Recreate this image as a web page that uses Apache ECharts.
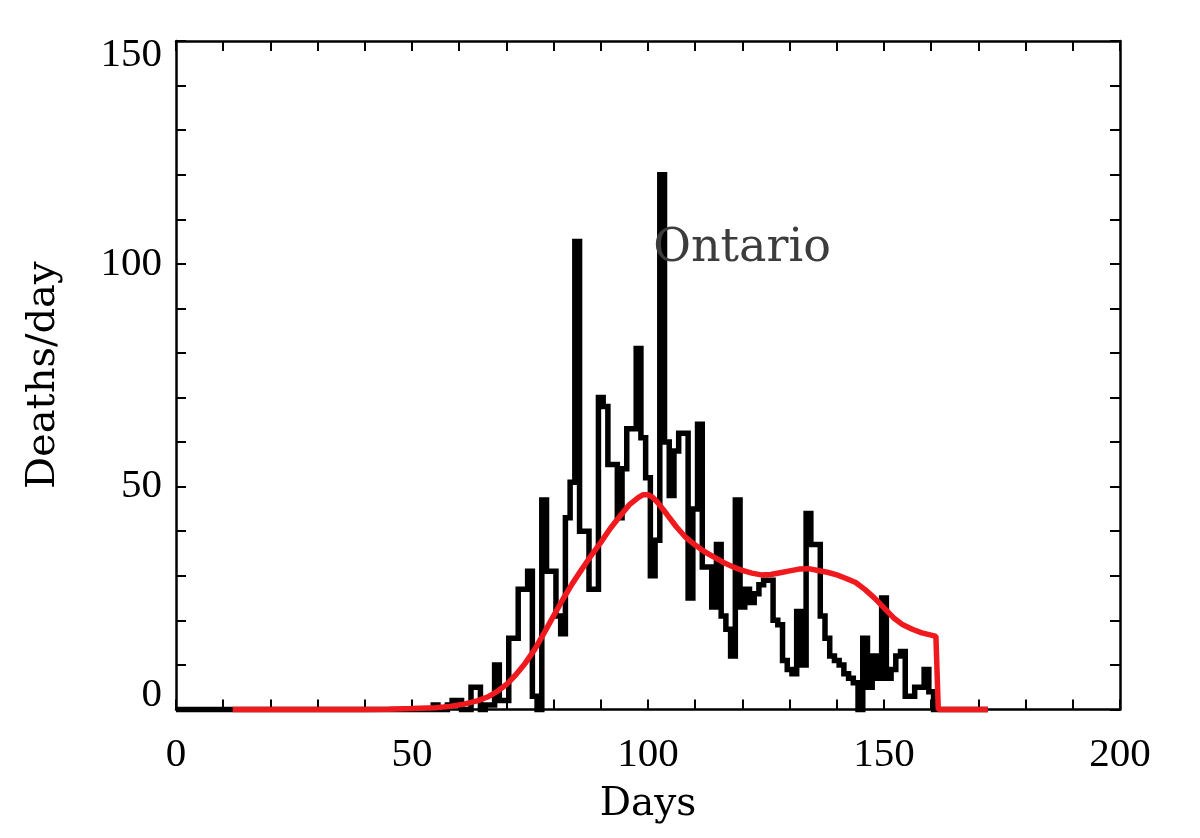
<!DOCTYPE html>
<html>
<head>
<meta charset="utf-8">
<script src="https://cdn.jsdelivr.net/npm/echarts@6/dist/echarts.min.js"></script>
<style>
html,body{margin:0;padding:0;background:#fff;}
#chart{width:1200px;height:838px;}
</style>
</head>
<body>
<div id="chart"></div>
<script>
// Daily deaths (step histogram), start day and values per day
const deathsStartDay = 55;
const deathsValues = [
  1,0,0,1,2,2,0,0,5,5,          // 55-64
  0,1,1,10,2,2,16,16,27,27,     // 65-74
  31,3,0,47,31,31,21,17,43,51,  // 75-84
  105,40,40,27,27,70,68,55,55,43, // 85-94
  54,63,63,81,61,52,30,38,120,60, // 95-104
  48,58,62,62,25,45,64,32,32,23,  // 105-114
  37,21,18,12,47,23,27,24,26,28,  // 115-124
  29,29,20,19,11,9,8,22,10,44,    // 125-134
  37,37,21,16,12,11,10,8,7,6,     // 135-144
  0,16,5,12,7,25,7,9,12,13,       // 145-154
  3,3,5,5,9,4,0                   // 155-161
];
const deathsLastDay = 172;

// Fitted model curve (red)
const fitDays = [12,20,30,40,45,50,55,58,61,64,66,68,70,72,74,76,78,80,82,84,86,88,90,92,94,96,98,99,100,101,102,104,106,108,110,112,114,116,118,120,122,124,126,128,130,132,134,136,138,140,142,144,146,148,150,152,154,156,158,160,161,161.5,172];
const fitValues = [0,0,0,0,0.05,0.2,0.4,0.7,1.2,2.0,2.8,4.0,5.6,7.8,10.4,13.5,17.2,21.0,24.8,28.3,31.5,34.6,37.5,40.6,43.3,45.9,47.6,48.2,48.2,47.6,46.5,43.8,41.0,38.6,36.9,35.4,34.2,33.0,32.0,31.2,30.6,30.2,30.3,30.7,31.1,31.5,31.6,31.2,30.8,30.2,29.4,28.5,26.9,25.0,22.8,20.6,19.0,18.0,17.2,16.7,16.4,0,0];

// Axis ticks
const xTickLabels = [0,50,100,150,200];
const yTickLabels = [0,50,100,150];
const titleText = 'Ontario';

const deathsData = [];
for (let d = 0; d <= deathsLastDay; d++) {
  const i = d - deathsStartDay;
  const v = (i >= 0 && i < deathsValues.length) ? deathsValues[i] : 0;
  deathsData.push([d, v]);
}
const fitData = fitDays.map((d, i) => [d, fitValues[i]]);

const chart = echarts.init(document.getElementById('chart'), null, {renderer: 'canvas'});
const tickFont = 'Liberation Serif';
const nameFont = 'DejaVu Serif';
const axisCommon = {
  type: 'value',
  splitLine: {show: false},
  axisLine: {show: true, onZero: false, lineStyle: {color: '#000', width: 2.5}},
  axisTick: {show: true, inside: true, length: 10, lineStyle: {color: '#000', width: 2}}
};
chart.setOption({
  animation: false,
  backgroundColor: '#fff',
  grid: {left: 176, right: 80, top: 41, bottom: 128.5},
  xAxis: [
    Object.assign({}, axisCommon, {
      position: 'bottom', min: 0, max: 200, interval: 10,
      name: 'Days', nameLocation: 'middle', nameGap: 76,
      nameTextStyle: {fontFamily: nameFont, fontSize: 39, color: '#000'},
      axisLabel: {
        margin: 25, fontFamily: tickFont, fontSize: 41, color: '#000',
        formatter: v => xTickLabels.indexOf(v) >= 0 ? String(v) : ''
      }
    }),
    Object.assign({}, axisCommon, {
      position: 'top', min: 0, max: 200, interval: 10,
      axisLabel: {show: false}
    })
  ],
  yAxis: [
    Object.assign({}, axisCommon, {
      position: 'left', min: 0, max: 150, interval: 10,
      name: 'Deaths/day', nameLocation: 'middle', nameGap: 112,
      nameTextStyle: {fontFamily: nameFont, fontSize: 40, color: '#000'},
      axisLabel: {
        margin: 14, fontFamily: tickFont, fontSize: 41, lineHeight: 28, color: '#000',
        verticalAlignMinLabel: 'bottom', verticalAlignMaxLabel: 'top',
        formatter: v => yTickLabels.indexOf(v) >= 0 ? String(v) : ''
      }
    }),
    Object.assign({}, axisCommon, {
      position: 'right', min: 0, max: 150, interval: 10,
      axisLabel: {show: false}
    })
  ],
  graphic: [{
    type: 'text', x: 742, y: 249, z: 10,
    style: {text: titleText, fontFamily: nameFont, fontSize: 46, fill: '#3c3c3c',
            textAlign: 'center', textVerticalAlign: 'middle'}
  }],
  series: [
    {
      type: 'line', name: 'deaths', step: 'middle', data: deathsData,
      xAxisIndex: 0, yAxisIndex: 0, symbol: 'none', clip: false,
      lineStyle: {color: '#000', width: 5.5, join: 'miter'}, z: 2
    },
    {
      type: 'line', name: 'fit', data: fitData,
      xAxisIndex: 0, yAxisIndex: 0, symbol: 'none', clip: false,
      lineStyle: {color: '#f01a1e', width: 5.5}, z: 3
    }
  ]
});
</script>
</body>
</html>
